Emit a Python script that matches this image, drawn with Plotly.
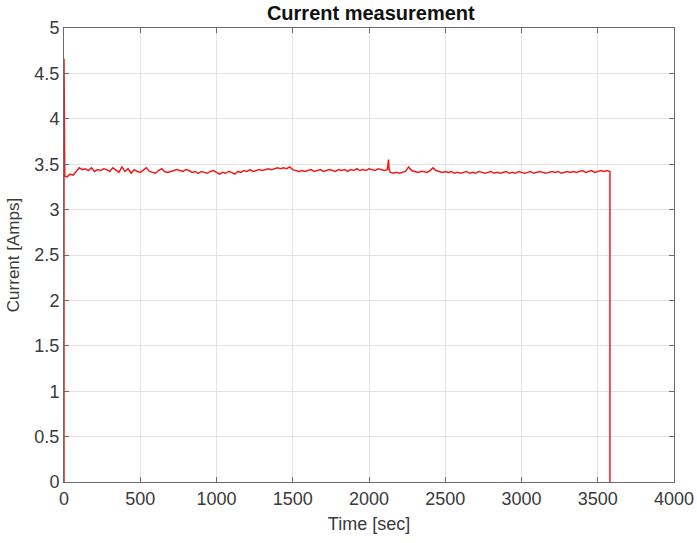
import plotly.graph_objects as go

# Time [sec] samples (20 s spacing) and measured current [A]
time_s = [0, 0, 5,
    20, 40, 60, 80, 100, 120, 140, 160, 180, 200,
    220, 240, 260, 280, 300, 320, 340, 360, 380, 400,
    420, 440, 460, 480, 500, 520, 540, 560, 580, 600,
    620, 640, 660, 680, 700, 720, 740, 760, 780, 800,
    820, 840, 860, 880, 900, 920, 940, 960, 980, 1000,
    1020, 1040, 1060, 1080, 1100, 1120, 1140, 1160, 1180, 1200,
    1220, 1240, 1260, 1280, 1300, 1320, 1340, 1360, 1380, 1400,
    1420, 1440, 1460, 1480, 1500, 1520, 1540, 1560, 1580, 1600,
    1620, 1640, 1660, 1680, 1700, 1720, 1740, 1760, 1780, 1800,
    1820, 1840, 1860, 1880, 1900, 1920, 1940, 1960, 1980, 2000,
    2020, 2040, 2060, 2080, 2100, 2120, 2128, 2132, 2140, 2160, 2180, 2200,
    2220, 2240, 2260, 2280, 2300, 2320, 2340, 2360, 2380, 2400,
    2420, 2440, 2460, 2480, 2500, 2520, 2540, 2560, 2580, 2600,
    2620, 2640, 2660, 2680, 2700, 2720, 2740, 2760, 2780, 2800,
    2820, 2840, 2860, 2880, 2900, 2920, 2940, 2960, 2980, 3000,
    3020, 3040, 3060, 3080, 3100, 3120, 3140, 3160, 3180, 3200,
    3220, 3240, 3260, 3280, 3300, 3320, 3340, 3360, 3380, 3400,
    3420, 3440, 3460, 3480, 3500, 3520, 3540, 3560, 3580, 3580]

current_a = [0.0, 4.66, 3.37,
    3.36, 3.39, 3.38, 3.42, 3.46, 3.44, 3.45, 3.43, 3.46, 3.42,
    3.44, 3.43, 3.45, 3.44, 3.42, 3.46, 3.43, 3.41, 3.47, 3.42,
    3.45, 3.40, 3.44, 3.42, 3.41, 3.44, 3.46, 3.42, 3.41, 3.40,
    3.43, 3.45, 3.42, 3.41, 3.42, 3.43, 3.44, 3.43, 3.42, 3.44,
    3.43, 3.41, 3.42, 3.40, 3.42, 3.41, 3.40, 3.42, 3.43, 3.41,
    3.39, 3.41, 3.40, 3.42, 3.41, 3.39, 3.42, 3.41, 3.43, 3.42,
    3.44, 3.42, 3.43, 3.44, 3.43, 3.44, 3.45, 3.44, 3.45, 3.46,
    3.45, 3.46, 3.45, 3.47, 3.44, 3.43, 3.42, 3.43, 3.42, 3.43,
    3.44, 3.42, 3.43, 3.44, 3.42, 3.43, 3.44, 3.43, 3.42, 3.44,
    3.43, 3.44, 3.42, 3.44, 3.43, 3.45, 3.43, 3.44, 3.43, 3.45,
    3.44, 3.43, 3.45, 3.44, 3.43, 3.44, 3.55, 3.44, 3.41, 3.40, 3.41, 3.40,
    3.41, 3.42, 3.47, 3.43, 3.42, 3.41, 3.42, 3.42, 3.41, 3.43,
    3.46, 3.43, 3.42, 3.41, 3.42, 3.41, 3.42, 3.40, 3.41, 3.40,
    3.41, 3.42, 3.40, 3.41, 3.40, 3.42, 3.41, 3.40, 3.41, 3.42,
    3.40, 3.41, 3.40, 3.41, 3.42, 3.40, 3.41, 3.40, 3.42, 3.41,
    3.40, 3.41, 3.42, 3.40, 3.41, 3.42, 3.41, 3.40, 3.41, 3.42,
    3.41, 3.42, 3.40, 3.41, 3.42, 3.41, 3.42, 3.41, 3.42, 3.43,
    3.41, 3.42, 3.43, 3.41, 3.42, 3.43, 3.42, 3.43, 3.42, 0.0]

x_ticks = [0, 500, 1000, 1500, 2000, 2500, 3000, 3500, 4000]
x_tick_labels = ["0", "500", "1000", "1500", "2000", "2500", "3000", "3500", "4000"]
y_ticks = [0, 0.5, 1, 1.5, 2, 2.5, 3, 3.5, 4, 4.5, 5]
y_tick_labels = ["0", "0.5", "1", "1.5", "2", "2.5", "3", "3.5", "4", "4.5", "5"]

FONT = "Liberation Sans, Arial, sans-serif"

fig = go.Figure()
fig.add_trace(go.Scatter(
    x=time_s, y=current_a, mode="lines",
    line=dict(color="#ee1c1c", width=1.5),
    showlegend=False,
))

axis_common = dict(
    showline=True, linecolor="#6a6a6a", linewidth=1, mirror="ticks",
    ticks="inside", ticklen=5, tickcolor="#6a6a6a",
    showgrid=True, gridcolor="#e3e3e3", gridwidth=1,
    zeroline=False, automargin=False,
    tickfont=dict(family=FONT, size=18, color="#3a3a3a"),
)

fig.update_layout(
    width=697, height=543,
    margin=dict(l=64, r=23, t=28, b=61),
    paper_bgcolor="white", plot_bgcolor="white",
    title=dict(text="<b>Current measurement</b>", x=0.503, xref="paper",
               y=1, yref="container", yanchor="top", pad=dict(t=6),
               font=dict(family=FONT, size=20, color="#111111")),
    xaxis=dict(range=[0, 4000], tickvals=x_ticks, ticktext=x_tick_labels,
               title=dict(text="Time [sec]", standoff=9,
                          font=dict(family=FONT, size=18, color="#3a3a3a")),
               **axis_common),
    yaxis=dict(range=[0, 5], tickvals=y_ticks, ticktext=y_tick_labels,
               title=dict(text="Current [Amps]", standoff=10,
                          font=dict(family=FONT, size=17, color="#3a3a3a")),
               **axis_common),
)

# Remove the browser's default 8 px body margin so the figure fills the window.
fig.write_html("out.html", config={"displayModeBar": False},
               post_script="document.body.style.margin='0px';")
